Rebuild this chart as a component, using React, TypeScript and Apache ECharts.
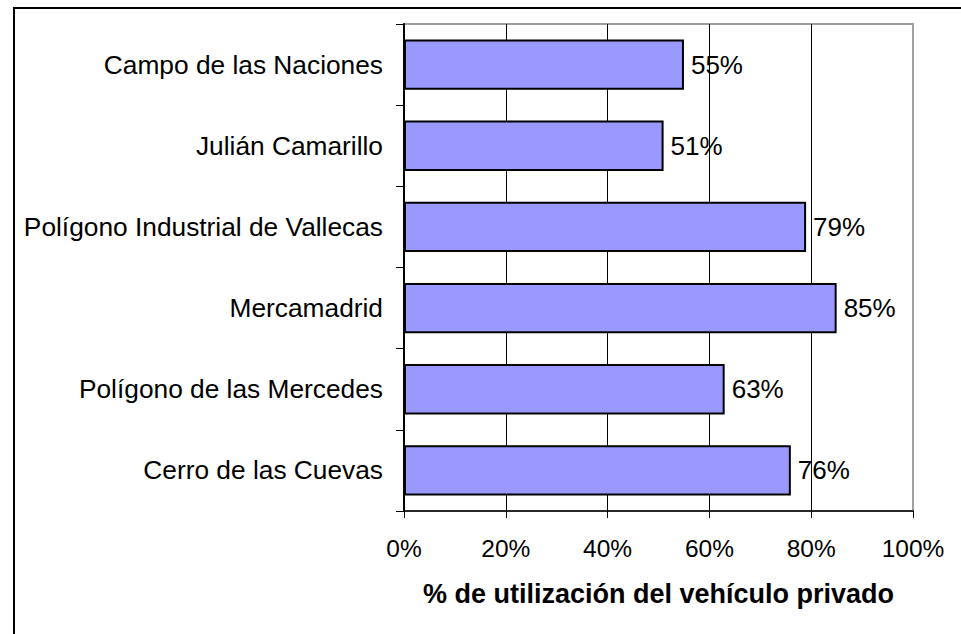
import React, { useEffect, useRef } from "react";
import * as echarts from "echarts";

const categories = [
  "Campo de las Naciones",
  "Julián Camarillo",
  "Polígono Industrial de Vallecas",
  "Mercamadrid",
  "Polígono de las Mercedes",
  "Cerro de las Cuevas",
];
const values = [55, 51, 79, 85, 63, 76];
const axisTitle = "% de utilización del vehículo privado";

const FONT = "'Liberation Sans', Arial, sans-serif";

export default function App() {
  const ref = useRef<HTMLDivElement>(null);
  useEffect(() => {
    if (!ref.current) return;
    const chart = echarts.init(ref.current, undefined, { renderer: "svg" });
    chart.setOption({
      animation: false,
      backgroundColor: "#ffffff",
      textStyle: { fontFamily: FONT },
      graphic: [
        {
          type: "rect",
          shape: { x: 14, y: 8, width: 1200, height: 1000 },
          style: { fill: "none", stroke: "#000", lineWidth: 2 },
          z: 100,
        },
      ],
      grid: {
        left: 404,
        right: 48,
        top: 24,
        bottom: 123,
        show: true,
        borderColor: "#a0a0a0",
        borderWidth: 2,
        backgroundColor: "transparent",
      },
      xAxis: {
        type: "value",
        min: 0,
        max: 100,
        interval: 20,
        name: axisTitle,
        nameLocation: "middle",
        nameGap: 69,
        nameTextStyle: {
          fontFamily: FONT,
          fontSize: 27,
          fontWeight: "bold",
          color: "#000",
        },
        axisLine: { show: true, lineStyle: { color: "#000", width: 1.5 } },
        axisTick: { show: true, inside: false, length: 7, lineStyle: { color: "#000" } },
        axisLabel: {
          formatter: "{value}%",
          fontFamily: FONT,
          fontSize: 24.5,
          color: "#000",
          margin: 25,
        },
        splitLine: {
          show: true,
          lineStyle: {
            color: ["#000", "#000", "#000", "#000", "#000", "#a0a0a0"],
            width: 1,
          },
        },
      },
      yAxis: {
        type: "category",
        data: categories,
        inverse: true,
        axisLine: { show: true, lineStyle: { color: "#000", width: 2 } },
        axisTick: { show: true, inside: false, length: 8, lineStyle: { color: "#000" } },
        axisLabel: {
          fontFamily: FONT,
          fontSize: 26.3,
          color: "#000",
          margin: 21,
        },
        splitLine: { show: false },
      },
      series: [
        {
          type: "bar",
          data: values,
          barCategoryGap: "38%",
          itemStyle: { color: "#9999ff", borderColor: "#000", borderWidth: 2 },
          label: {
            show: true,
            position: "right",
            distance: 7,
            formatter: "{c}%",
            fontFamily: FONT,
            fontSize: 26,
            color: "#000",
          },
        },
      ],
    });
    return () => chart.dispose();
  }, []);
  return (
    <div
      ref={ref}
      style={{ position: "fixed", left: 0, top: 0, width: 961, height: 634 }}
    />
  );
}
